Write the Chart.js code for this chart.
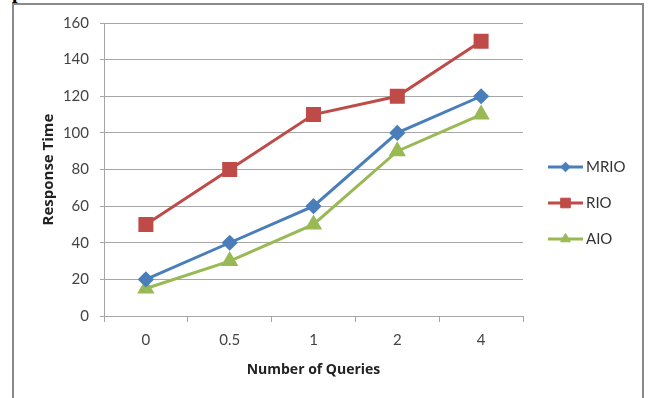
<!DOCTYPE html>
<html>
<head>
<meta charset="utf-8">
<script src="https://cdn.jsdelivr.net/npm/chart.js@4/dist/chart.umd.min.js"></script>
<style>
  html, body { margin: 0; padding: 0; background: #fff; }
  #wrap { position: relative; width: 649px; height: 398px; overflow: hidden; }
  #frame { position: absolute; left: 12px; top: 3px; width: 632px; height: 420px;
           border: 2px solid #8a8a8a; box-sizing: border-box; }
  #frag { position: absolute; left: 12px; top: -20px; font: bold 20px "Liberation Serif", serif; color: #000; }
  canvas { position: absolute; left: 0; top: 0; }
</style>
</head>
<body>
<div id="wrap">
  <div id="frame"></div>
  <div id="frag">p</div>
  <canvas id="c" width="649" height="398"></canvas>
</div>
<script>
const categories = ['0', '0.5', '1', '2', '4'];
const mrio = [20, 40, 60, 100, 120];
const rio = [50, 80, 110, 120, 150];
const aio = [15, 30, 50, 90, 110];
const seriesNames = ['MRIO', 'RIO', 'AIO'];
const yTicks = [0, 20, 40, 60, 80, 100, 120, 140, 160];

const FONT = 'Lato, "Open Sans", sans-serif';
const TFONT = '"Open Sans", Lato, sans-serif';

const legendPlugin = {
  id: 'sideLegend',
  afterDraw(chart) {
    const ctx = chart.ctx;
    const x0 = 548, x1 = 583, tx = 586;
    const ys = [167, 203, 239];
    chart.data.datasets.forEach((ds, i) => {
      const y = ys[i];
      ctx.save();
      ctx.strokeStyle = ds.borderColor;
      ctx.lineWidth = 3;
      ctx.beginPath(); ctx.moveTo(x0, y); ctx.lineTo(x1, y); ctx.stroke();
      ctx.fillStyle = ds.borderColor;
      ctx.strokeStyle = ds.borderColor;
      ctx.lineWidth = 1;
      Chart.helpers.drawPoint(ctx, {
        pointStyle: ds.pointStyle, radius: ds.pointRadius * 0.8, borderWidth: 1, rotation: 0
      }, (x0 + x1) / 2, y);
      ctx.restore();
      ctx.save();
      ctx.fillStyle = '#333';
      ctx.font = '15px ' + FONT;
      ctx.textBaseline = 'middle';
      ctx.textAlign = 'left';
      ctx.fillText(ds.label, tx, y);
      ctx.restore();
    });
  }
};

function mk(label, data, color, style, r) {
  return {
    label, data,
    borderColor: color, backgroundColor: color,
    pointBackgroundColor: color, pointBorderColor: color,
    pointStyle: style, pointRadius: r, pointHoverRadius: r,
    borderWidth: 3, tension: 0
  };
}

new Chart(document.getElementById('c'), {
  type: 'line',
  data: {
    labels: categories,
    datasets: [
      mk(seriesNames[0], mrio, '#4a7ebb', 'rectRot', 6),
      mk(seriesNames[1], rio, '#be4b48', 'rect', 8.5),
      mk(seriesNames[2], aio, '#98b954', 'triangle', 7)
    ]
  },
  options: {
    responsive: false,
    animation: false,
    devicePixelRatio: 1,
    layout: { padding: { left: 0, top: 23, right: 126, bottom: 0 } },
    plugins: { legend: { display: false }, tooltip: { enabled: false } },
    scales: {
      x: {
        offset: true,
        grid: { display: true, drawOnChartArea: false, drawTicks: true, tickLength: 6, offset: true, color: '#a6a6a6', lineWidth: 1 },
        border: { color: '#a6a6a6', width: 1 },
        ticks: { color: '#444', font: { size: 15, family: FONT }, padding: 9 },
        title: { display: true, text: 'Number of Queries', color: '#222', font: { size: 14, weight: 'bold', family: TFONT }, padding: { top: 0, bottom: 20 } },
        afterFit(s) { s.height = 82; }
      },
      y: {
        min: 0, max: 160,
        afterBuildTicks(s) { s.ticks = yTicks.map(v => ({ value: v })); },
        grid: { color: '#a6a6a6', lineWidth: 1, tickLength: 4 },
        border: { color: '#a6a6a6', width: 1 },
        ticks: { color: '#444', font: { size: 15, family: FONT }, padding: 11 },
        title: { display: true, text: 'Response Time', color: '#222', font: { size: 15, weight: 'bold', family: TFONT }, padding: { top: 40, bottom: 0 } },
        afterFit(s) { s.width = 104; }
      }
    }
  },
  plugins: [legendPlugin]
});
</script>
</body>
</html>
